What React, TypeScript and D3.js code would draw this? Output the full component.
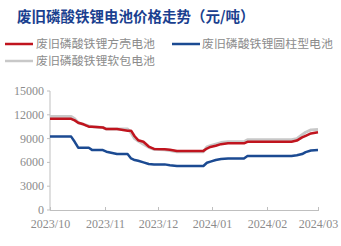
import React from "react";
import * as d3 from "d3";

const title = "废旧磷酸铁锂电池价格走势（元/吨）";
const seriesNames = ["废旧磷酸铁锂方壳电池", "废旧磷酸铁锂圆柱型电池", "废旧磷酸铁锂软包电池"];
const seriesColors = ["#C0141E", "#1B4A92", "#C8C8C8"];

const dates = [
  "2023-10-01", "2023-10-13", "2023-10-15", "2023-10-17", "2023-10-20", "2023-10-23",
  "2023-10-25", "2023-10-31", "2023-11-02", "2023-11-08", "2023-11-14", "2023-11-16",
  "2023-11-18", "2023-11-20", "2023-11-23", "2023-11-26", "2023-11-29", "2023-12-05",
  "2023-12-08", "2023-12-12", "2023-12-27", "2023-12-29", "2023-12-31", "2024-01-03",
  "2024-01-06", "2024-01-10", "2024-01-19", "2024-01-21", "2024-02-15", "2024-02-18",
  "2024-02-21", "2024-02-23", "2024-02-26", "2024-03-01",
];
const squareValues = [
  11500, 11500, 11300, 11000, 10800, 10500,
  10500, 10400, 10200, 10200, 10000, 10000,
  9300, 8800, 8600, 8000, 7700, 7650,
  7600, 7450, 7450, 7750, 7950, 8100,
  8300, 8400, 8400, 8600, 8600, 8750,
  9150, 9350, 9650, 9800,
];
const cylinderValues = [
  9250, 9250, 8600, 7850, 7850, 7850,
  7550, 7550, 7350, 7050, 7050, 6500,
  6300, 6200, 6000, 5800, 5750, 5750,
  5650, 5550, 5550, 5950, 6100, 6300,
  6430, 6500, 6500, 6800, 6800, 6900,
  7050, 7300, 7500, 7550,
];
const pouchValues = [
  11800, 11800, 11500, 11000, 10800, 10600,
  10500, 10400, 10200, 10200, 10200, 9700,
  9000, 8700, 8300, 7900, 7650, 7600,
  7500, 7350, 7350, 7950, 8100, 8300,
  8500, 8600, 8600, 8850, 8850, 9000,
  9500, 9800, 10100, 10150,
];
const yTicks = [0, 3000, 6000, 9000, 12000, 15000];
const xTickDates = ["2023-10-01", "2023-11-01", "2023-12-01", "2024-01-01", "2024-02-01", "2024-03-01"];

const parse = d3.timeParse("%Y-%m-%d");
const fmt = d3.timeFormat("%Y/%m");

export default function App() {
  const W = 341, H = 246;
  const x = d3.scaleTime().domain([parse("2023-10-01")!, parse("2024-03-01")!]).range([50, 318]);
  const y = d3.scaleLinear().domain([0, 15000]).range([210, 91]);
  const pts = (vals: number[]) => dates.map((d, i) => [x(parse(d)!), y(vals[i])] as [number, number]);
  const line = d3.line().curve(d3.curveLinear);
  const serif = "'Liberation Serif', 'DejaVu Serif', serif";
  const cjk = "'Noto Sans CJK SC', sans-serif";
  const gridColor = "#BFBFBF";
  const textColor = "#8C8C8C";
  return (
    <svg width={W} height={H} style={{ position: "absolute", left: 0, top: 0, background: "#fff" }}>
      <text x={17} y={22} fontFamily={cjk} fontWeight={700} fontSize={14.5} fill="#1A3F8F">{title}</text>
      {/* legend */}
      <line x1={5} x2={33} y1={44} y2={44} stroke={seriesColors[0]} strokeWidth={2.5} />
      <text x={36} y={48} fontFamily={cjk} fontSize={11.9} fill={textColor}>{seriesNames[0]}</text>
      <line x1={172} x2={200} y1={44} y2={44} stroke={seriesColors[1]} strokeWidth={2.5} />
      <text x={202} y={48} fontFamily={cjk} fontSize={11.9} fill={textColor}>{seriesNames[1]}</text>
      <line x1={5} x2={33} y1={61} y2={61} stroke={seriesColors[2]} strokeWidth={2.5} />
      <text x={36} y={65} fontFamily={cjk} fontSize={11.9} fill={textColor}>{seriesNames[2]}</text>
      {/* axes */}
      <line x1={50} x2={50} y1={y(15000)} y2={210} stroke={gridColor} />
      <line x1={50} x2={319} y1={210.5} y2={210.5} stroke={gridColor} />
      {yTicks.map((t) => (
        <g key={t}>
          <line x1={47} x2={50} y1={y(t)} y2={y(t)} stroke={gridColor} />
          <text x={44} y={y(t) + 4} textAnchor="end" fontFamily={serif} fontSize={12} fill={textColor}>{t}</text>
        </g>
      ))}
      {xTickDates.map((d) => {
        const xx = Math.round(x(parse(d)!)) + 0.5;
        return (
          <g key={d}>
            <line x1={xx} x2={xx} y1={207} y2={210} stroke={gridColor} />
            <text x={xx} y={228} textAnchor="middle" fontFamily={serif} fontSize={12} fill={textColor}>{fmt(parse(d)!)}</text>
          </g>
        );
      })}
      {/* series */}
      <path d={line(pts(pouchValues))!} fill="none" stroke={seriesColors[2]} strokeWidth={3} strokeLinejoin="round" />
      <path d={line(pts(squareValues))!} fill="none" stroke={seriesColors[0]} strokeWidth={2.5} strokeLinejoin="round" />
      <path d={line(pts(cylinderValues))!} fill="none" stroke={seriesColors[1]} strokeWidth={2.5} strokeLinejoin="round" />
    </svg>
  );
}
